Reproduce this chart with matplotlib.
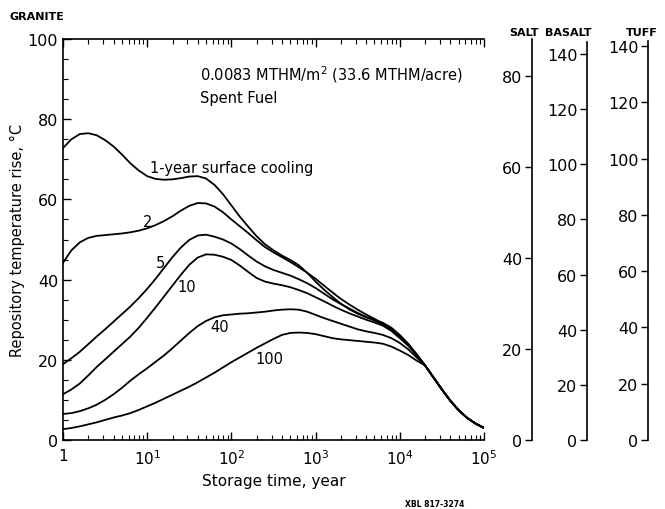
import numpy as np
import matplotlib
matplotlib.use("Agg")
import matplotlib.pyplot as plt
from matplotlib.ticker import FixedLocator, NullFormatter

# ---- data ----
# storage time as log10(years), 0.0 .. 5.0 in steps of 0.1
log_time = [0.0, 0.1, 0.2, 0.3, 0.4, 0.5, 0.6, 0.7, 0.8, 0.9,
            1.0, 1.1, 1.2, 1.3, 1.4, 1.5, 1.6, 1.7, 1.8, 1.9,
            2.0, 2.1, 2.2, 2.3, 2.4, 2.5, 2.6, 2.7, 2.8, 2.9,
            3.0, 3.1, 3.2, 3.3, 3.4, 3.5, 3.6, 3.7, 3.8, 3.9,
            4.0, 4.1, 4.2, 4.3, 4.4, 4.5, 4.6, 4.7, 4.8, 4.9, 5.0]
time_years = [10 ** v for v in log_time]

cool_1 = [72.8, 75.0, 76.3, 76.5, 76.0, 74.8, 73.2, 71.2, 69.0, 67.2,
          65.8, 65.1, 64.9, 65.0, 65.3, 65.7, 65.8, 65.2, 63.6, 61.3,
          58.5, 55.7, 53.2, 50.8, 48.8, 47.3, 46.0, 44.9, 43.6, 41.7,
          39.5, 37.5, 35.7, 34.0, 32.6, 31.5, 30.6, 29.9, 29.2, 28.0,
          26.2, 24.0, 21.4, 18.6, 15.6, 12.6, 9.8, 7.4, 5.5, 4.1, 3.0]
cool_2 = [44.2, 47.3, 49.3, 50.4, 50.9, 51.1, 51.3, 51.5, 51.8, 52.2,
          52.8, 53.6, 54.6, 55.8, 57.2, 58.4, 59.1, 59.0, 58.2, 56.8,
          55.0, 53.3, 51.6, 49.8, 48.1, 46.8, 45.6, 44.4, 43.1, 41.7,
          40.2, 38.5, 36.8, 35.2, 33.8, 32.5, 31.3, 30.2, 29.1, 27.8,
          26.0, 23.9, 21.3, 18.6, 15.6, 12.6, 9.8, 7.4, 5.5, 4.1, 3.0]
cool_5 = [18.9, 20.4, 22.0, 23.9, 25.8, 27.6, 29.5, 31.4, 33.3, 35.4,
          37.7, 40.2, 42.9, 45.6, 48.0, 49.9, 51.0, 51.2, 50.7, 50.0,
          49.0, 47.6, 46.0, 44.5, 43.3, 42.4, 41.7, 41.0, 40.1, 39.1,
          37.9, 36.5, 35.1, 33.9, 32.8, 31.7, 30.7, 29.8, 28.8, 27.5,
          25.7, 23.7, 21.2, 18.6, 15.6, 12.6, 9.8, 7.4, 5.5, 4.1, 3.0]
cool_10 = [11.4, 12.6, 14.1, 16.1, 18.2, 20.1, 22.0, 23.9, 25.8, 28.0,
           30.5, 33.1, 35.8, 38.5, 41.2, 43.7, 45.5, 46.3, 46.2, 45.7,
           44.9, 43.5, 41.9, 40.4, 39.5, 39.0, 38.6, 38.1, 37.4, 36.6,
           35.6, 34.6, 33.5, 32.5, 31.6, 30.8, 30.0, 29.3, 28.5, 27.2,
           25.4, 23.5, 21.1, 18.6, 15.6, 12.6, 9.8, 7.4, 5.5, 4.1, 3.0]
cool_40 = [6.5, 6.7, 7.2, 7.9, 8.8, 10.0, 11.4, 13.0, 14.8, 16.4,
           17.9, 19.5, 21.1, 22.9, 24.8, 26.7, 28.4, 29.7, 30.6, 31.1,
           31.3, 31.5, 31.6, 31.8, 32.0, 32.3, 32.5, 32.6, 32.5, 32.0,
           31.2, 30.4, 29.7, 29.0, 28.3, 27.6, 27.1, 26.7, 26.2, 25.4,
           24.2, 22.6, 20.6, 18.6, 15.6, 12.6, 9.8, 7.4, 5.5, 4.1, 3.0]
cool_100 = [2.7, 3.0, 3.4, 3.9, 4.4, 5.0, 5.6, 6.1, 6.7, 7.5,
            8.4, 9.3, 10.3, 11.3, 12.3, 13.3, 14.4, 15.6, 16.8, 18.1,
            19.4, 20.6, 21.8, 23.0, 24.1, 25.2, 26.2, 26.7, 26.8, 26.7,
            26.4, 25.9, 25.4, 25.1, 24.9, 24.7, 24.5, 24.3, 24.0, 23.3,
            22.3, 21.2, 19.8, 18.6, 15.6, 12.6, 9.8, 7.4, 5.5, 4.1, 3.0]

curve_labels = ["2", "5", "10", "40", "100"]
x_ticks = [1, 10, 100, 1000, 10000, 100000]
x_tick_labels = ["1", r"$10^1$", r"$10^2$", r"$10^3$", r"$10^4$", r"$10^5$"]
granite_ticks = [0, 20, 40, 60, 80, 100]
salt_ticks = [0, 20, 40, 60, 80]
basalt_ticks = [0, 20, 40, 60, 80, 100, 120, 140]
tuff_ticks = [0, 20, 40, 60, 80, 100, 120, 140]

W, H = 665, 510
plt.rcParams['font.family'] = ['DejaVu Sans']
fig = plt.figure(figsize=(W / 100, H / 100), dpi=100)

y0 = 441  # pixel of zero line
ax = fig.add_axes([63 / W, 1 - y0 / H, (484 - 63) / W, (y0 - 40) / H])
for s in (cool_1, cool_2, cool_5, cool_10, cool_40, cool_100):
    ax.plot(time_years, s, color="black", lw=1.3, solid_joinstyle="round")
ax.set_xscale("log")
ax.set_xlim(1, 1e5)
ax.set_ylim(0, 100)
ax.set_xticks(x_ticks)
ax.set_xticklabels(x_tick_labels, fontsize=11)
ax.xaxis.set_minor_locator(matplotlib.ticker.LogLocator(base=10, subs=np.arange(2, 10)))
ax.xaxis.set_minor_formatter(NullFormatter())
ax.set_yticks(granite_ticks)
ax.set_yticklabels([str(v) for v in granite_ticks], fontsize=11.5)
ax.yaxis.set_minor_locator(FixedLocator(np.arange(0, 101, 5)))
ax.spines["right"].set_visible(False)
for sp in ax.spines.values():
    sp.set_linewidth(1.2)
ax.tick_params(axis="both", which="both", direction="in", top=True, right=False)
ax.tick_params(axis="both", which="major", length=6, width=1)
ax.tick_params(axis="both", which="minor", length=3.5, width=0.8)
ax.tick_params(axis="x", which="major", pad=6)
ax.set_xlabel("Storage time, year", fontsize=11, labelpad=4)
ax.set_ylabel("Repository temperature rise, °C", fontsize=10.5, labelpad=2)

ax.text(10 ** 1.03, 68, "1-year surface cooling", fontsize=10.5, va="center", ha="left")
label_pos = [(10 ** 1.0, 54.5), (10 ** 1.16, 44.3), (10 ** 1.47, 38.3),
             (10 ** 1.86, 28.2), (10 ** 2.45, 20.2)]
for lab, (lx, ly) in zip(curve_labels, label_pos):
    ax.text(lx, ly, lab, fontsize=10.5, ha="center", va="center")

fig.text(200 / W, 1 - 75 / H, "0.0083 MTHM/m$^2$ (33.6 MTHM/acre)", fontsize=10.5,
         ha="left", va="center")
fig.text(200 / W, 1 - 99 / H, "Spent Fuel", fontsize=10.5, ha="left", va="center")
fig.text(10 / W, 1 - 17 / H, "GRANITE", fontsize=8, fontweight="bold", ha="left", va="center")
fig.text(509 / W, 1 - 33 / H, "SALT", fontsize=8, fontweight="bold", ha="left", va="center")
fig.text(545 / W, 1 - 33 / H, "BASALT", fontsize=8, fontweight="bold", ha="left", va="center")
fig.text(626 / W, 1 - 33 / H, "TUFF", fontsize=8, fontweight="bold", ha="left", va="center")
fig.text(435 / W, 1 - 505 / H, "XBL 817-3274", fontsize=5.5, fontweight="bold",
         ha="center", va="center")


def side_axis(xpx, top_px, px_per_unit, ticks):
    a = fig.add_axes([xpx / W, 1 - y0 / H, 0.0005, (y0 - top_px) / H])
    a.set_ylim(0, (y0 - top_px) / px_per_unit)
    a.patch.set_visible(False)
    for k in ("top", "right", "bottom"):
        a.spines[k].set_visible(False)
    a.spines["left"].set_linewidth(1.2)
    a.set_xticks([])
    a.set_yticks(ticks)
    a.set_yticklabels([str(v) for v in ticks], fontsize=11.5)
    a.tick_params(axis="y", direction="out", length=5, width=1, pad=2)
    return a


side_axis(532, 40, 4.55, salt_ticks)
side_axis(587, 43, 2.757, basalt_ticks)
side_axis(648, 42, 2.814, tuff_ticks)

fig.savefig("out.png", dpi=100)
